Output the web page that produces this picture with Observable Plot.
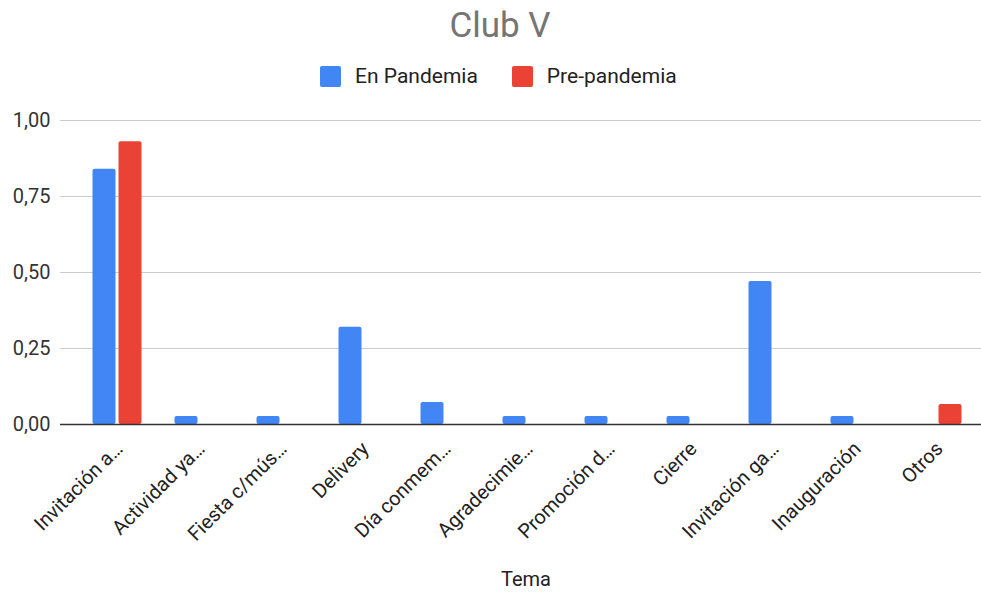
<!DOCTYPE html>
<html>
<head>
<meta charset="utf-8">
<script src="https://cdn.jsdelivr.net/npm/d3@7"></script>
<script src="https://cdn.jsdelivr.net/npm/@observablehq/plot@0.6"></script>
<style>
  body { margin: 0; background: #fff; font-family: Roboto, sans-serif; }
  #wrap { position: relative; width: 981px; height: 596px; overflow: hidden; background: #fff; }
  #title { position: absolute; left: 0; top: 4px; width: 1000px; text-align: center; font-size: 35px; line-height: 44px; color: #757575; }
  #legend { position: absolute; left: 320px; top: 64px; height: 24px; display: flex; align-items: center; font-size: 21px; color: #222; }
  #legend .item { display: flex; align-items: center; margin-right: 34px; }
  #legend .sw { width: 21px; height: 21px; border-radius: 2px; margin-right: 14px; }
  #chart { position: absolute; left: 0; top: 100px; }
</style>
</head>
<body>
<div id="wrap">
  <div id="title">Club V</div>
  <div id="legend"></div>
  <div id="chart"></div>
</div>
<script>
const categories = [
  "Invitación a…", "Actividad ya…", "Fiesta c/mús…", "Delivery", "Día conmem…",
  "Agradecimie…", "Promoción d…", "Cierre", "Invitación ga…", "Inauguración", "Otros"
];
const series = ["En Pandemia", "Pre-pandemia"];
const enPandemia = [0.84, 0.026, 0.026, 0.32, 0.072, 0.026, 0.026, 0.026, 0.47, 0.026, 0];
const prePandemia = [0.93, 0, 0, 0, 0, 0, 0, 0, 0, 0, 0.066];
const yTicks = [0, 0.25, 0.5, 0.75, 1];
const colors = ["#4285f4", "#ea4335"];

const data = [];
categories.forEach((c, i) => {
  data.push({tema: c, serie: series[0], valor: enPandemia[i]});
  data.push({tema: c, serie: series[1], valor: prePandemia[i]});
});

const fmt = d => d3.format(".2f")(d).replace(".", ",");

// legend
const legend = document.getElementById("legend");
series.forEach((s, i) => {
  const it = document.createElement("div");
  it.className = "item";
  const sw = document.createElement("div");
  sw.className = "sw";
  sw.style.background = colors[i];
  const tx = document.createElement("span");
  tx.textContent = s;
  it.appendChild(sw); it.appendChild(tx);
  legend.appendChild(it);
});

const chart = Plot.plot({
  width: 981,
  height: 496,
  marginLeft: 60,
  marginRight: 0,
  marginTop: 20,
  marginBottom: 172,
  style: {fontFamily: "Roboto, sans-serif", fontSize: "20px", color: "#333", background: "transparent"},
  x: {domain: categories, range: [75.5, 977.5], padding: 0, axis: null},
  y: {domain: [0, 1]},
  color: {domain: series, range: colors},
  marks: [
    Plot.ruleY(yTicks.filter(d => d > 0), {stroke: "#cccccc", strokeWidth: 1.2}),
    Plot.barY(data.filter(d => d.serie === series[0] && d.valor > 0),
      {x: "tema", y: "valor", fill: "serie", insetLeft: 16.5, insetRight: 42.5, rx: 2}),
    Plot.barY(data.filter(d => d.serie === series[1] && d.valor > 0),
      {x: "tema", y: "valor", fill: "serie", insetLeft: 42.5, insetRight: 16.5, rx: 2}),
    Plot.ruleY([0], {stroke: "#333", strokeWidth: 1.5}),
    Plot.axisY({ticks: yTicks, tickFormat: fmt, tickSize: 0, tickPadding: 10, fontSize: 20, label: null}),
    Plot.text(categories, {x: d => d, text: d => d, frameAnchor: "bottom", rotate: -45,
      textAnchor: "end", lineAnchor: "middle", dx: 2, dy: 21, fontSize: 20, fill: "#222"}),
    Plot.text(["Tema"], {text: d => d, frameAnchor: "bottom", dx: 5, dy: 161, fontSize: 20, fill: "#222"})
  ]
});
document.getElementById("chart").appendChild(chart);
</script>
</body>
</html>
